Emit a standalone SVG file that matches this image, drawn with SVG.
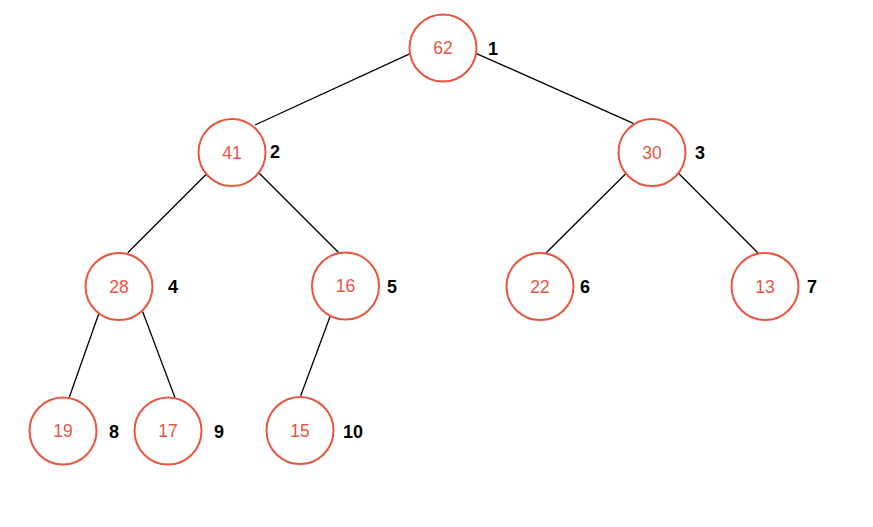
<svg xmlns="http://www.w3.org/2000/svg" width="873" height="527" viewBox="0 0 873 527">
<style>
.n circle{fill:#fff;stroke:#e9553f;stroke-width:2}
.n text{font-family:"Liberation Sans",Arial,sans-serif;font-size:17.5px;fill:#e9553f;text-anchor:middle;dominant-baseline:central}
.lbl{font-family:"Liberation Sans",Arial,sans-serif;font-size:18px;font-weight:bold;fill:#000;dominant-baseline:central}
.e line{stroke:#000;stroke-width:1.3}
</style>
<rect width="873" height="527" fill="#fff"/>
<g id="edges" class="e">
<line x1="410.7" y1="53.3" x2="255" y2="125"/>
<line x1="476" y1="53.3" x2="633.3" y2="123.3"/>
<line x1="207.3" y1="173.3" x2="127.7" y2="252.7"/>
<line x1="259.3" y1="173.3" x2="339.3" y2="253.3"/>
<line x1="626.7" y1="172.7" x2="546" y2="253"/>
<line x1="678" y1="172.7" x2="758" y2="253"/>
<line x1="99.3" y1="312.3" x2="69.3" y2="397.3"/>
<line x1="142.7" y1="311.7" x2="175" y2="397.7"/>
<line x1="330" y1="316.7" x2="300.7" y2="395.7"/>
</g>
<g id="n1" class="n"><circle cx="443" cy="48" r="33.5"/><text x="443" y="48">62</text></g>
<g id="n2" class="n"><circle cx="232" cy="152.5" r="33.5"/><text x="232" y="152.5">41</text></g>
<g id="n3" class="n"><circle cx="652" cy="152.5" r="33.5"/><text x="652" y="152.5">30</text></g>
<g id="n4" class="n"><circle cx="119" cy="286.5" r="33.5"/><text x="119" y="286.5">28</text></g>
<g id="n5" class="n"><circle cx="345.5" cy="286" r="33.5"/><text x="345.5" y="286">16</text></g>
<g id="n6" class="n"><circle cx="540" cy="286.5" r="33.5"/><text x="540" y="286.5">22</text></g>
<g id="n7" class="n"><circle cx="765" cy="286.5" r="33.5"/><text x="765" y="286.5">13</text></g>
<g id="n8" class="n"><circle cx="63" cy="431" r="33.5"/><text x="63" y="431">19</text></g>
<g id="n9" class="n"><circle cx="168" cy="431" r="33.5"/><text x="168" y="431">17</text></g>
<g id="n10" class="n"><circle cx="300" cy="430.5" r="33.5"/><text x="300" y="430.5">15</text></g>
<g id="labels">
<text class="lbl" x="488" y="49">1</text>
<text class="lbl" x="270" y="152">2</text>
<text class="lbl" x="695" y="153">3</text>
<text class="lbl" x="168" y="287">4</text>
<text class="lbl" x="387" y="287">5</text>
<text class="lbl" x="580" y="287">6</text>
<text class="lbl" x="807" y="287">7</text>
<text class="lbl" x="109" y="432">8</text>
<text class="lbl" x="214" y="432">9</text>
<text class="lbl" x="343" y="432">10</text>
</g>
</svg>
